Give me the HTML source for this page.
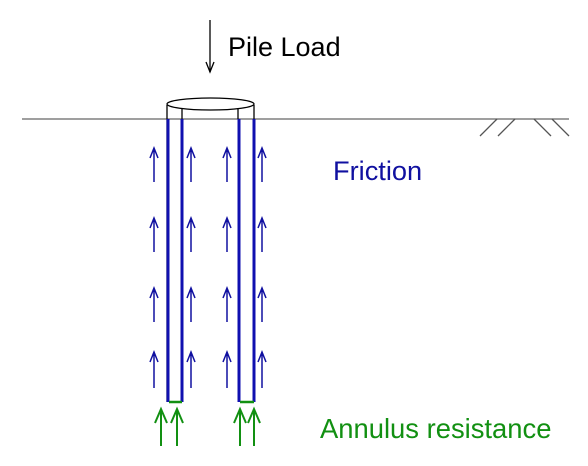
<!DOCTYPE html>
<html><head><meta charset="utf-8"><style>
html,body{margin:0;padding:0;background:#fff;width:588px;height:466px;overflow:hidden}
svg{display:block;font-family:"Liberation Sans",sans-serif}
</style></head><body>
<svg width="588" height="466" viewBox="0 0 588 466">
<line x1="22" y1="119" x2="569" y2="119" stroke="#666" stroke-width="1.3"/>
<g stroke="#555" stroke-width="1.3">
<line x1="480" y1="136" x2="497" y2="119"/><line x1="498" y1="136" x2="515" y2="119"/>
<line x1="534" y1="119" x2="551" y2="136"/><line x1="552" y1="119" x2="569" y2="136"/>
</g>
<g stroke="#000" stroke-width="1.3" fill="none">
<line x1="210" y1="20" x2="210" y2="72"/>
<path d="M206,62 L210,72 L214,62"/>
</g>
<text x="228" y="56" font-size="27" fill="#000">Pile Load</text>
<g>
<line x1="167" y1="105" x2="167" y2="402" stroke="#000" stroke-width="1.3"/>
<line x1="182" y1="108" x2="182" y2="119" stroke="#000" stroke-width="1.3"/>
<line x1="238" y1="108" x2="238" y2="119" stroke="#000" stroke-width="1.3"/>
<line x1="254" y1="105" x2="254" y2="119" stroke="#000" stroke-width="1.3"/>
<ellipse cx="210.5" cy="104" rx="43.5" ry="6" fill="none" stroke="#000" stroke-width="1.3"/>
<g stroke="#1010b0" stroke-width="3">
<line x1="168" y1="119" x2="168" y2="402"/><line x1="182" y1="119" x2="182" y2="402"/>
<line x1="239" y1="119" x2="239" y2="402"/><line x1="254" y1="119" x2="254" y2="402"/>
</g>
<g stroke="#129012" stroke-width="2.5">
<line x1="169" y1="402" x2="182" y2="402"/><line x1="240" y1="402" x2="254" y2="402"/>
</g>
</g>
<g stroke="#1010a0" stroke-width="1.5" fill="none">
<g id="col">
<path d="M154,182 V148 M150,158 L154,148 L158,158"/>
<path d="M154,252 V218 M150,228 L154,218 L158,228"/>
<path d="M154,322 V288 M150,298 L154,288 L158,298"/>
<path d="M154,388 V352 M150,362 L154,352 L158,362"/>
</g>
<use href="#col" x="37"/><use href="#col" x="73"/><use href="#col" x="108"/>
</g>
<g stroke="#129012" stroke-width="2" fill="none">
<g id="ga"><path d="M161,446 V410 M155,423 L161,409 L167,423"/></g>
<use href="#ga" x="16"/><use href="#ga" x="79"/><use href="#ga" x="93"/>
</g>
<text x="333" y="180" font-size="27.2" fill="#1010a0">Friction</text>
<text x="320" y="438" font-size="27.4" fill="#129012">Annulus resistance</text>
</svg>
</body></html>
